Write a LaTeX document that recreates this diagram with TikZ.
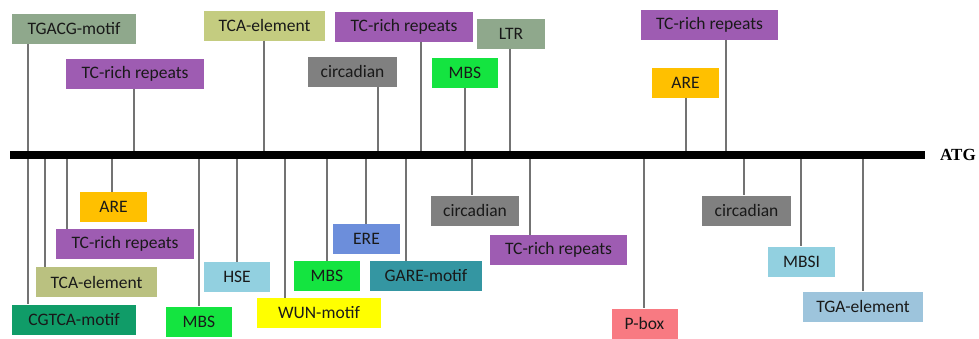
\documentclass[tikz,border=0pt]{standalone}
\usepackage{fontspec}
\setmainfont{Carlito}
\newfontfamily\atgfont{Liberation Serif}
\definecolor{cGrGreen}{RGB}{143,168,140}
\definecolor{cOlive}{RGB}{196,204,128}
\definecolor{cPurple}{RGB}{158,92,178}
\definecolor{cGray}{RGB}{128,128,128}
\definecolor{cGreen}{RGB}{20,228,64}
\definecolor{cOrange}{RGB}{255,192,0}
\definecolor{cTeal}{RGB}{16,156,104}
\definecolor{cLBlue}{RGB}{146,208,224}
\definecolor{cSky}{RGB}{157,196,220}
\definecolor{cYellow}{RGB}{255,255,0}
\definecolor{cBlue}{RGB}{108,142,219}
\definecolor{cCyan}{RGB}{52,150,162}
\definecolor{cPink}{RGB}{248,122,130}
\begin{document}
\begin{tikzpicture}[x=1pt,y=-1pt,
    box/.style={fill=#1,minimum height=30,inner sep=0pt,text=black!90,
        font=\fontsize{17.5}{20}\selectfont},
    stem/.style={draw=black!55,line width=1.4pt}]
    \fill[white] (0,0) rectangle (979,338);
    \useasboundingbox (0,0) rectangle (979,338);
    % strand
    \draw[line width=8pt] (10,155) -- (925,155);
    \node[anchor=west,inner sep=0pt,font=\atgfont\bfseries\fontsize{17}{19}\selectfont] (atg) at (940,155) {ATG};
    % elements above the strand
    \node[box=cGrGreen,minimum width=124] (tgacg) at (74,29) {TGACG-motif};
    \node[box=cOlive,minimum width=121] (tcaA) at (264.5,25.5) {TCA-element};
    \node[box=cPurple,minimum width=138] (tcrA) at (135,73.5) {TC-rich repeats};
    \node[box=cGray,minimum width=89] (circA) at (352.5,71.5) {circadian};
    \node[box=cPurple,minimum width=138] (tcrB) at (404,26.5) {TC-rich repeats};
    \node[box=cGrGreen,minimum width=68] (ltr) at (511,33.5) {LTR};
    \node[box=cGreen,minimum width=66] (mbsA) at (465,73) {MBS};
    \node[box=cPurple,minimum width=137] (tcrC) at (709.5,24.5) {TC-rich repeats};
    \node[box=cOrange,minimum width=67] (areA) at (685.5,82.5) {ARE};
    % elements below the strand
    \node[box=cOrange,minimum width=67] (areB) at (113.5,207) {ARE};
    \node[box=cPurple,minimum width=138] (tcrD) at (125,244) {TC-rich repeats};
    \node[box=cOlive!85!gray,minimum width=121] (tcaB) at (96.5,282) {TCA-element};
    \node[box=cTeal,minimum width=124] (cgtca) at (74,319.5) {CGTCA-motif};
    \node[box=cLBlue,minimum width=66] (hse) at (237,277) {HSE};
    \node[box=cGreen,minimum width=66] (mbsB) at (199,321.5) {MBS};
    \node[box=cGreen,minimum width=66] (mbsC) at (327,276) {MBS};
    \node[box=cYellow,minimum width=124] (wun) at (319,313) {WUN-motif};
    \node[box=cBlue,minimum width=67] (ere) at (366.5,239) {ERE};
    \node[box=cCyan,minimum width=112] (gare) at (426,276) {GARE-motif};
    \node[box=cGray,minimum width=88] (circB) at (475,210.5) {circadian};
    \node[box=cPurple,minimum width=137] (tcrE) at (558.5,250) {TC-rich repeats};
    \node[box=cPink,minimum width=66] (pbox) at (644.5,323.5) {P-box};
    \node[box=cGray,minimum width=89] (circC) at (746.5,210.5) {circadian};
    \node[box=cLBlue,minimum width=67] (mbsi) at (801.5,261.5) {MBSI};
    \node[box=cSky,minimum width=120] (tga) at (863,306.5) {TGA-element};
    % stems
    \foreach \n/\x in {tgacg/28,tcrA/134,tcaA/264,circA/378,tcrB/421,mbsA/465,ltr/510,areA/686,tcrC/726}
        \draw[stem] (\n.south -| \x,0) -- (\x,151);
    \foreach \n/\x in {cgtca/28,tcaB/45,tcrD/67,areB/112,mbsB/199,hse/237,wun/285,mbsC/327,ere/366,gare/406,circB/472,tcrE/530,pbox/644,circC/744,mbsi/801,tga/863}
        \draw[stem] (\x,159) -- (\n.north -| \x,0);
\end{tikzpicture}
\end{document}
